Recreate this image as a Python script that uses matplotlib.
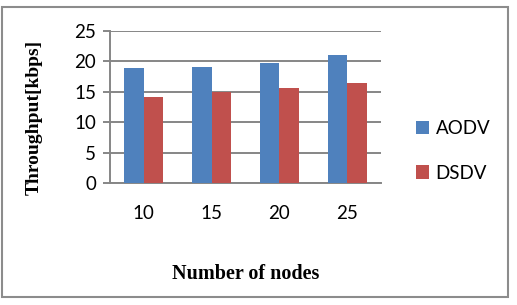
import matplotlib
matplotlib.use("Agg")
import matplotlib.pyplot as plt
import numpy as np
from matplotlib.patches import Rectangle

nodes = ["10", "15", "20", "25"]
aodv = [18.9, 19.1, 19.8, 21.0]
dsdv = [14.1, 14.9, 15.6, 16.4]
y_ticks = [0, 5, 10, 15, 20, 25]

BLUE = "#4F81BD"
RED = "#C0504D"
GRID = "#868686"

fig = plt.figure(figsize=(5.17, 3.05), dpi=100)
fig.patches.append(Rectangle((2 / 517, 8 / 305), 506 / 517, 290 / 305,
                             transform=fig.transFigure, fill=False,
                             edgecolor="#8c8c8c", linewidth=1.5))

ax = fig.add_axes([110 / 517, 122 / 305, 271 / 517, 152 / 305])
x = np.arange(len(nodes))
width = 0.286
ax.bar(x - width / 2, aodv, width=width, color=BLUE, label="AODV", zorder=3)
ax.bar(x + width / 2, dsdv, width=width, color=RED, label="DSDV", zorder=3)

ax.set_xlim(-0.5, len(nodes) - 0.5)
ax.set_ylim(0, 25)
ax.set_yticks(y_ticks)
ax.set_xticks(x)
ax.set_xticklabels(nodes)
ax.yaxis.grid(True, color=GRID, linewidth=1.4, zorder=0)
for side in ["top", "right"]:
    ax.spines[side].set_visible(False)
ax.spines["left"].set_color(GRID)
ax.spines["bottom"].set_color(GRID)
ax.spines["left"].set_linewidth(1.4)
ax.spines["bottom"].set_linewidth(1.4)
ax.tick_params(axis="y", length=5, width=1.4, color=GRID, pad=5)
ax.tick_params(axis="x", length=0, pad=16)
for lab in ax.get_xticklabels() + ax.get_yticklabels():
    lab.set_fontfamily("Lato")
    lab.set_fontsize(13.5)

ax.set_xlabel("Number of nodes", fontfamily="Liberation Serif",
              fontweight="bold", fontsize=14.5, labelpad=30)
ax.set_ylabel("Throughput[kbps]", fontfamily="Liberation Serif",
              fontweight="bold", fontsize=14, color="black")
ax.yaxis.set_label_coords(-0.247, 0.434)

leg = fig.legend(loc="center left", bbox_to_anchor=(399 / 517, 1 - 151 / 305),
                 frameon=False, handlelength=0.7, handleheight=0.7,
                 labelspacing=1.45, handletextpad=0.35,
                 prop={"family": "Lato", "size": 13.5})

fig.savefig("out.png", dpi=100)
